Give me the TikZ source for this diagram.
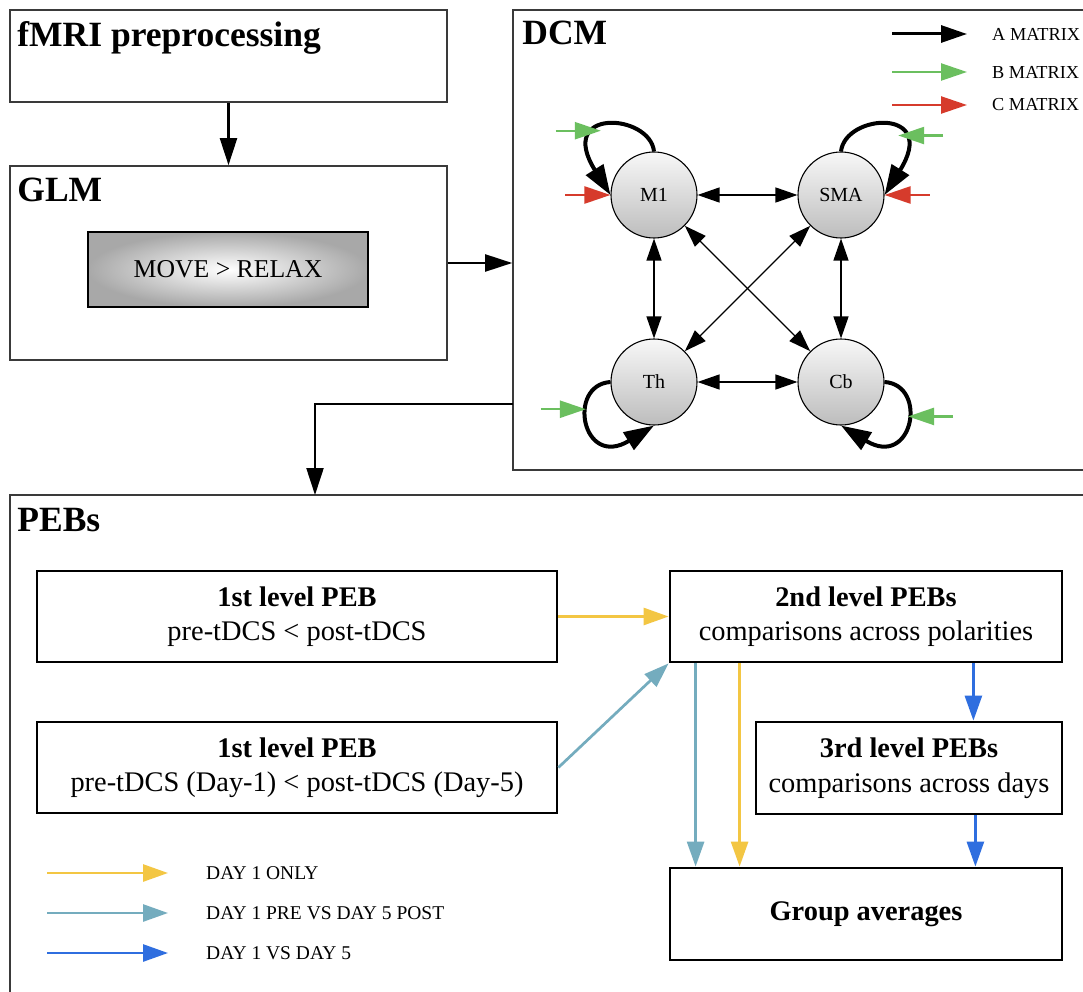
\documentclass[tikz,border=0pt]{standalone}
\usepackage{fontspec}
\setmainfont{Liberation Serif}
\usetikzlibrary{arrows.meta}

\definecolor{fmline}{HTML}{3A3A3A}
\definecolor{dia1}{HTML}{F3C643}
\definecolor{prepos}{HTML}{74ACBE}
\definecolor{dias}{HTML}{2F6EDF}
\definecolor{bmat}{HTML}{6BBF5F}
\definecolor{cmat}{HTML}{D63B2C}
\tikzset{
  frame/.style={draw=fmline,line width=1.6pt,inner sep=0pt},
  ttl/.style={font=\fontsize{35.5}{40}\selectfont\bfseries,anchor=base west,inner sep=0pt},
  pebbox/.style={draw=black,line width=2.8pt,align=center,inner sep=0pt,font=\fontsize{28.4}{34.5}\selectfont},
  roi/.style={circle,draw=black,line width=1.1pt,minimum size=86pt,inner sep=0pt,top color=white!97!black,bottom color=black!26,font=\fontsize{20}{22}\selectfont},
  fluxo/.style={line width=2.2pt,-{Triangle[length=27pt,width=17pt]}},
  conn/.style={line width=1.3pt,{Triangle[length=22pt,width=15pt]}-{Triangle[length=22pt,width=15pt]}},
  laco/.style={line width=4pt,-{Triangle[length=30pt,width=20pt]}},
  inp/.style={line width=2.4pt,-{Triangle[length=26pt,width=17pt]}},
  pebseta/.style={line width=2.7pt,-{Triangle[length=25pt,width=17pt]}},
  legtxt/.style={anchor=west,inner sep=0pt,font=\fontsize{19.5}{21}\selectfont},
}

\begin{document}
\begin{tikzpicture}[x=1pt,y=-1pt]
  \path[use as bounding box,fill=white] (0,0) rectangle (1083,992);
  \clip (0,0) rectangle (1083,992);

  % blocos da esquerda
  \node[frame,minimum width=437pt,minimum height=92pt] (fmri) at (228.5,56) {};
  \node[ttl] at ([xshift=8pt,yshift=-37pt]fmri.north west) {fMRI preprocessing};
  \node[frame,minimum width=437pt,minimum height=194pt] (glm) at (228.5,263) {};
  \node[ttl] at ([xshift=8pt,yshift=-36pt]glm.north west) {GLM};
  \node[draw=black,line width=2.6pt,minimum width=280pt,minimum height=75pt,inner color=white,outer color=black!34,
        font=\fontsize{25.7}{30}\selectfont] (move) at (228,269.5) {MOVE > RELAX};
  \node[frame,minimum width=587pt,minimum height=460pt] (dcm) at (806.5,240) {};
  \node[ttl] at ([xshift=10pt,yshift=-35pt]dcm.north west) {DCM};
  \node[frame,minimum width=1085pt,minimum height=520pt] (pebs) at (552.5,755) {};
  \node[ttl] at ([xshift=8pt,yshift=-37pt]pebs.north west) {PEBs};

  \draw[fluxo] (fmri.south) -- (glm.north);
  \draw[fluxo] (glm.east) -- (glm.east -| dcm.west);
  \coordinate (saida) at (513,404);
  \coordinate (entrada) at (315,495);
  \draw[fluxo] (saida) -| (entrada);

  % DCM
  \node[roi] (M1) at (654,195) {M1};
  \node[roi] (SMA) at (841,195) {SMA};
  \node[roi] (Th) at (654,382) {Th};
  \node[roi] (Cb) at (841,382) {Cb};
  \foreach \a/\b in {M1/SMA,M1/Th,SMA/Cb,Th/Cb,M1/Cb,SMA/Th}
    \draw[conn] (\a) -- (\b);
  \draw[laco] (M1.north) .. controls +(-4,-38) and +(-55,-88) .. (M1.west) coordinate[pos=0.6] (bM1);
  \draw[laco] (SMA.north) .. controls +(4,-38) and +(55,-88) .. (SMA.east) coordinate[pos=0.66] (bSMA);
  \draw[laco] (Th.west) .. controls +(-44,3) and +(-72,44) .. (Th.south) coordinate[pos=0.38] (bTh);
  \draw[laco] (Cb.east) .. controls +(44,3) and +(72,44) .. (Cb.south) coordinate[pos=0.45] (bCb);
  \draw[inp,bmat] ([xshift=-45pt]bM1) -- (bM1);
  \draw[inp,bmat] ([xshift=45pt]bSMA) -- (bSMA);
  \draw[inp,bmat] ([xshift=-45pt]bTh) -- (bTh);
  \draw[inp,bmat] ([xshift=45pt]bCb) -- (bCb);
  \draw[inp,cmat] ([xshift=-45pt]M1.west) -- (M1.west);
  \draw[inp,cmat] ([xshift=45pt]SMA.east) -- (SMA.east);
  \foreach \i/\cor/\lw/\y/\txt in {a/black/3/34/A MATRIX,b/bmat/2.4/72/B MATRIX,c/cmat/2.4/105/C MATRIX}{
    \node[legtxt,font=\fontsize{18.3}{20}\selectfont] (mat\i) at (992,\y) {\txt};
    \draw[inp,\cor,line width=\lw pt] ([xshift=-100pt]mat\i.west) -- ([xshift=-25pt]mat\i.west);}

  % PEBs
  \node[pebbox,minimum width=520pt,minimum height=91pt] (p1a) at (297,616.5) {\textbf{1st level PEB}\\pre-tDCS < post-tDCS};
  \node[pebbox,minimum width=520pt,minimum height=91pt] (p1b) at (297,767.5) {\textbf{1st level PEB}\\pre-tDCS (Day-1) < post-tDCS (Day-5)};
  \node[pebbox,minimum width=392pt,minimum height=91pt] (p2) at (866,616.5) {\textbf{2nd level PEBs}\\comparisons across polarities};
  \node[pebbox,minimum width=306pt,minimum height=92pt] (p3) at (909,768) {\textbf{3rd level PEBs}\\comparisons across days};
  \node[pebbox,minimum width=392pt,minimum height=92pt] (grp) at (866,914) {\textbf{Group averages}};
  \draw[pebseta,dia1] (p1a.east) -- (p2.west);
  \draw[pebseta,prepos] (p1b.east) -- (p2.south west);
  \draw[pebseta,prepos] ([xshift=27pt]p2.south west) -- ([xshift=27pt]grp.north west);
  \draw[pebseta,dia1] ([xshift=71pt]p2.south west) -- ([xshift=71pt]grp.north west);
  \draw[pebseta,dias] ([xshift=-90pt]p2.south east) -- ([xshift=-90pt]p3.north east);
  \draw[pebseta,dias] ([xshift=-88pt]p3.south east) -- ([xshift=-88pt]grp.north east);
  \foreach \i/\cor/\y/\txt in {1/dia1/873/DAY 1 ONLY,2/prepos/913/DAY 1 PRE VS DAY 5 POST,3/dias/953/DAY 1 VS DAY 5}{
    \node[legtxt] (leg\i) at (206,\y) {\txt};
    \draw[pebseta,\cor] ([xshift=-159pt]leg\i.west) -- ([xshift=-38pt]leg\i.west);}
\end{tikzpicture}
\end{document}
